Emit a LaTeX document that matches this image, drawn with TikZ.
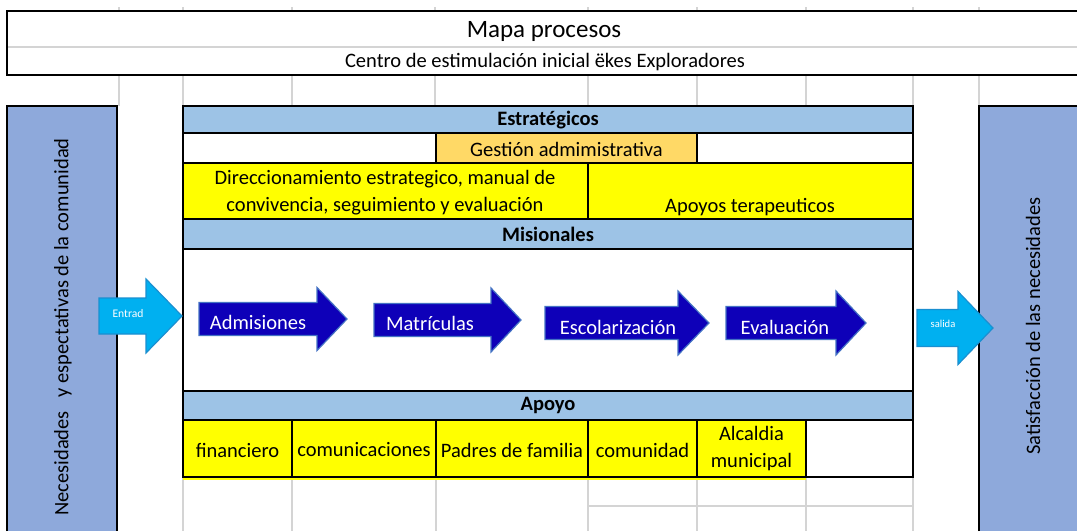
\documentclass[tikz,border=0pt]{standalone}
\usepackage{fontspec}
\setmainfont{Carlito}
\usetikzlibrary{calc}
\definecolor{encab}{HTML}{9DC3E6}
\definecolor{lateral}{HTML}{8EA9DB}
\definecolor{gestion}{HTML}{FFD966}
\definecolor{amarillo}{HTML}{FFFF00}
\definecolor{rejilla}{HTML}{D4D4D4}
\definecolor{flechaosc}{RGB}{14,0,184}
\definecolor{bordeosc}{HTML}{4472C4}
\definecolor{flechacla}{HTML}{00B0F0}
\definecolor{bordecla}{HTML}{1A8FD0}
\tikzset{
  borde/.style={line width=2.5pt},
  celda/.style={line width=2pt},
  gris/.style={rejilla, line width=1.2pt},
  texto/.style={font=\fontsize{20.5}{27}\selectfont, inner sep=0pt, align=center},
  negrita/.style={texto, font=\fontsize{20.5}{27}\selectfont\bfseries},
  etiqueta/.style={texto, text=white},
  proceso/.style={fill=flechaosc, draw=bordeosc, line width=1.2pt},
  entrada/.style={fill=flechacla, draw=bordecla, line width=1.2pt}
}
% #1 estilo, #2 cola, #3 inicio punta, #4 punta, #5 centro y, #6 medio cuerpo, #7 media punta
\newcommand{\flecha}[7]{%
  \filldraw[#1] (#2,#5-#6) -- (#3,#5-#6) -- (#3,#5-#7) -- (#4,#5)
    -- (#3,#5+#7) -- (#3,#5+#6) -- (#2,#5+#6) -- cycle;}

\begin{document}
\begin{tikzpicture}[>=latex, x=1pt, y=-1pt]
  \fill[white] (0,0) rectangle (1077,531);
  \useasboundingbox (0,0) rectangle (1077,531);
  % rejilla de la hoja
  \foreach \x in {119,183,292,435,588,697,806,913,979} {
    \draw[gris] (\x,7) -- (\x,11);
    \draw[gris] (\x,75) -- (\x,106);
  }
  \foreach \x in {183,292,436,588,697,806,913}
    \draw[gris] (\x,477) -- (\x,531);
  \draw[gris] (588,506) -- (913,506);
  \draw[gris] (7,47) -- (1077,47);
  % titulo
  \draw[borde] (1077,11) -- (7,11) -- (7,75) -- (1077,75);
  \node[texto, font=\fontsize{25}{30}\selectfont] (titulo) at (544,31) {Mapa procesos};
  \node[texto] (centro) at (545,62) {Centro de estimulación inicial ëkes Exploradores};
  % columnas laterales
  \fill[lateral] (7,106) rectangle (117,531);
  \draw[borde] (7,531) -- (7,106) -- (117,106) -- (117,531);
  \fill[lateral] (979,106) rectangle (1077,531);
  \draw[borde] (979,531) -- (979,106) -- (1077,106);
  \node[texto, rotate=90] (necesidades) at (63,327) {Necesidades\ \ \ y espectativas de la comunidad};
  \node[texto, rotate=90] (satisfaccion) at (1033,326) {Satisfacción de las necesidades};
  % bloque central
  \fill[encab] (183,106) rectangle (913,133);
  \fill[gestion] (436,133) rectangle (697,163);
  \fill[amarillo] (183,163) rectangle (913,219);
  \fill[encab] (183,219) rectangle (913,249);
  \fill[encab] (183,391) rectangle (913,420);
  \fill[amarillo] (183,420) rectangle (806,479.5);
  \foreach \y in {133,163,219,249,391,420}
    \draw[borde] (183,\y) -- (913,\y);
  \draw[celda] (436,133) -- (436,163) (697,133) -- (697,163);
  \draw[celda] (588,163) -- (588,219);
  \foreach \x in {292,436,588,697,806}
    \draw[celda] (\x,420) -- (\x,477);
  \draw[borde] (183,106) rectangle (913,477);
  \node[negrita] (estrategicos) at (548,120) {Estratégicos};
  \node[texto] (gestionadm) at (566.5,149) {Gestión admimistrativa};
  \node[texto] (direccionamiento) at (385,193) {Direccionamiento estrategico, manual de\\convivencia, seguimiento y evaluación};
  \node[texto] (terapeuticos) at (750,207) {Apoyos terapeuticos};
  \node[negrita] (misionales) at (548,234) {Misionales};
  \node[negrita] (apoyo) at (548,405) {Apoyo};
  \node[texto] (financiero) at (237.5,450) {financiero};
  \node[texto] (comunicaciones) at (364,450) {comunicaciones};
  \node[texto] (padres) at (512,450) {Padres de familia};
  \node[texto] (comunidad) at (642.5,450) {comunidad};
  \node[texto] (alcaldia) at (751.5,449) {Alcaldia\\municipal};
  % flechas de entrada y salida
  \flecha{entrada}{99}{146}{182}{316}{18}{37}
  \node[etiqueta, font=\fontsize{11.6}{14}\selectfont] (entrad) at (128,314) {Entrad};
  \flecha{entrada}{917}{958}{993}{328}{18.5}{36.5}
  \node[etiqueta, font=\fontsize{10.6}{13}\selectfont] (salida) at (943,324) {salida};
  % procesos misionales
  \flecha{proceso}{199}{317}{347}{319}{16.5}{31.5}
  \node[etiqueta] (admisiones) at (258,322) {Admisiones};
  \flecha{proceso}{374}{491}{521}{320}{16.5}{32}
  \node[etiqueta] (matriculas) at (430,323) {Matrículas};
  \flecha{proceso}{545}{678}{709}{323}{16.5}{32}
  \node[etiqueta] (escolarizacion) at (618,327) {Escolarización};
  \flecha{proceso}{726}{836}{866}{323}{16.5}{32}
  \node[etiqueta] (evaluacion) at (785,327) {Evaluación};
\end{tikzpicture}
\end{document}
